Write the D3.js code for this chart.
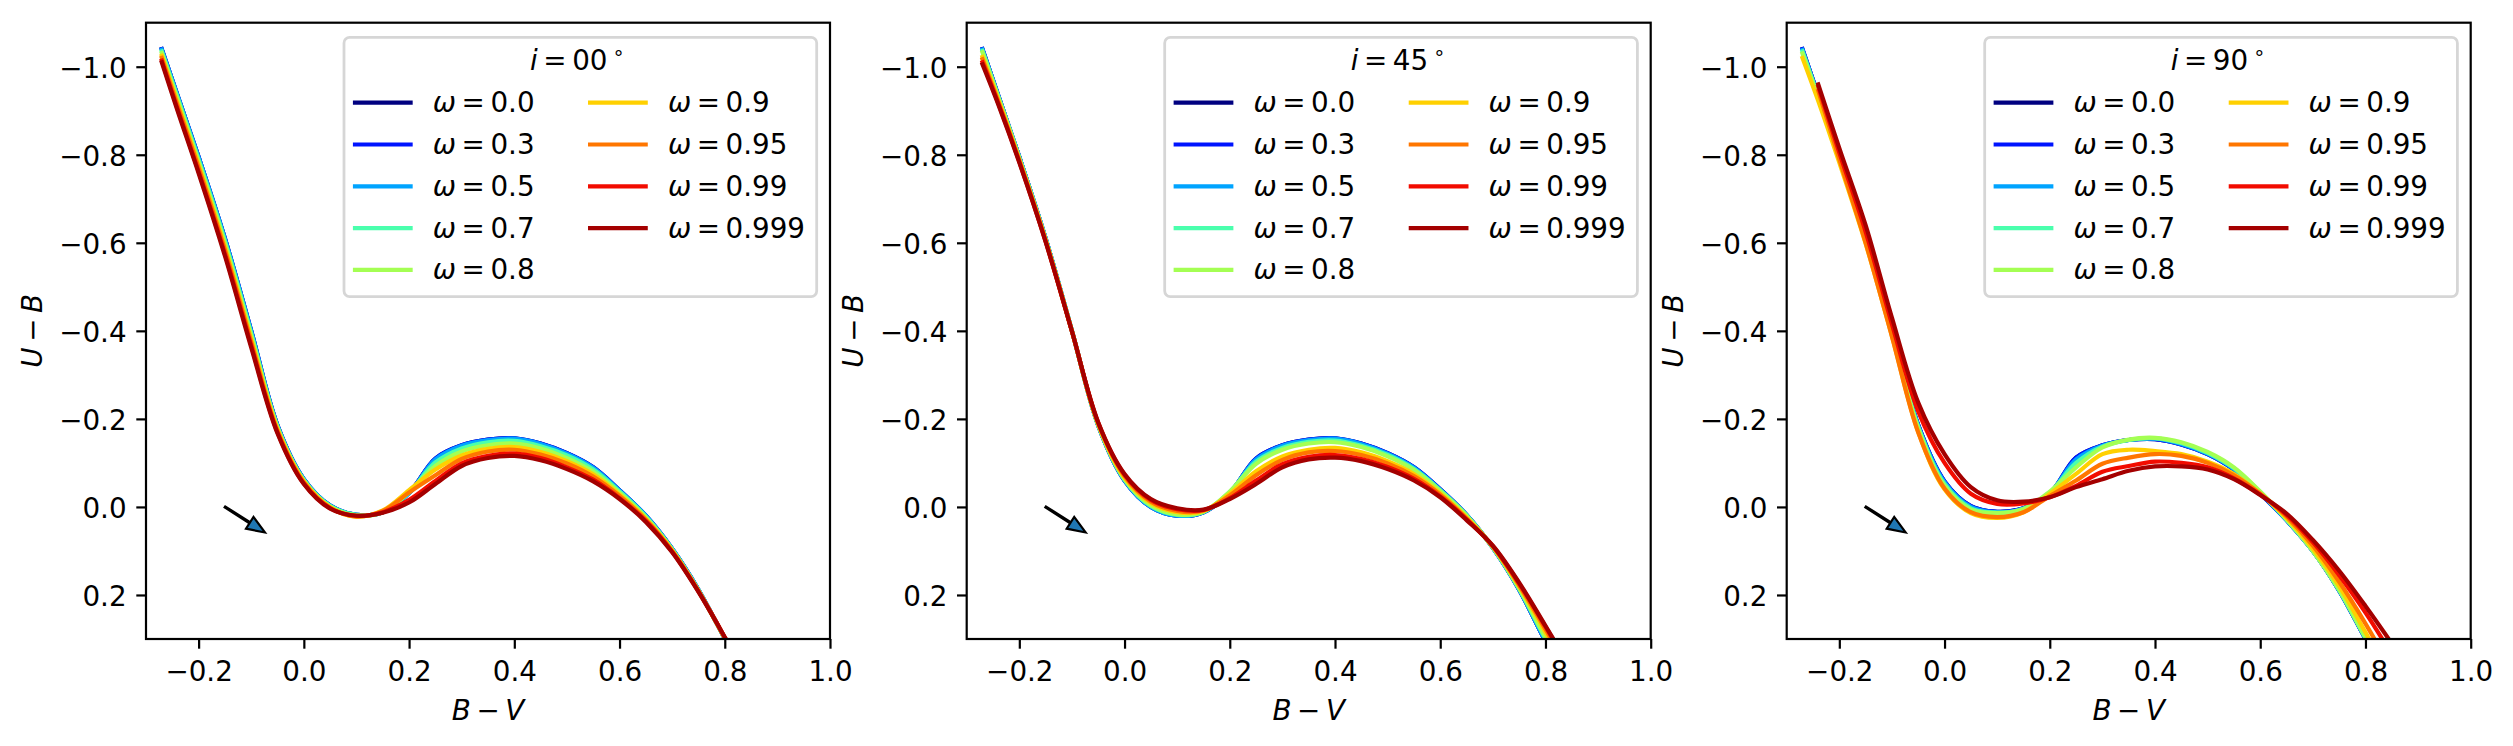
<!DOCTYPE html>
<html>
<head>
<meta charset="utf-8">
<script src="https://cdn.jsdelivr.net/npm/d3@7"></script>
<style>
    body { margin: 0; background: #fff; }
    svg text { font-family: "DejaVu Sans", sans-serif; font-size: 27.78px; fill: #000; }
</style>
</head>
<body>
<div id="chart"></div>
<script>

// shared B-V grid for every curve
var bvGrid = [-0.27, -0.24, -0.2, -0.15, -0.1, -0.05, 0.0, 0.05, 0.1, 0.15, 0.2, 0.25,
    0.3, 0.35, 0.4, 0.45, 0.5, 0.55, 0.6, 0.65, 0.7, 0.75, 0.8, 0.85];

var omegaLabels = ["0.0", "0.3", "0.5", "0.7", "0.8", "0.9", "0.95", "0.99", "0.999"];
var inclLabels = ["00", "45", "90"];

var xTicks = [-0.2, 0.0, 0.2, 0.4, 0.6, 0.8, 1.0];
var yTicks = [-1.0, -0.8, -0.6, -0.4, -0.2, 0.0, 0.2];

// U-B for each omega, i = 00
var ubIncl00 = [
    [-1.040, -0.935, -0.795, -0.610, -0.400, -0.185, -0.063, -0.003, 0.018, 0.012, -0.032, -0.110, -0.140, -0.153, -0.156, -0.144, -0.122, -0.090, -0.038, 0.020, 0.095, 0.188, 0.299, 0.410],
    [-1.040, -0.935, -0.795, -0.610, -0.400, -0.185, -0.063, -0.003, 0.018, 0.012, -0.032, -0.110, -0.140, -0.153, -0.156, -0.144, -0.122, -0.090, -0.038, 0.020, 0.095, 0.188, 0.299, 0.410],
    [-1.039, -0.934, -0.794, -0.609, -0.399, -0.184, -0.063, -0.003, 0.018, 0.012, -0.031, -0.108, -0.139, -0.152, -0.155, -0.143, -0.121, -0.089, -0.037, 0.020, 0.095, 0.188, 0.299, 0.410],
    [-1.035, -0.930, -0.789, -0.604, -0.394, -0.182, -0.061, -0.002, 0.018, 0.012, -0.033, -0.101, -0.133, -0.147, -0.150, -0.138, -0.117, -0.085, -0.035, 0.022, 0.096, 0.189, 0.299, 0.409],
    [-1.031, -0.925, -0.784, -0.598, -0.389, -0.180, -0.060, -0.001, 0.019, 0.012, -0.034, -0.093, -0.126, -0.140, -0.144, -0.133, -0.111, -0.080, -0.032, 0.024, 0.097, 0.190, 0.298, 0.409],
    [-1.025, -0.918, -0.777, -0.590, -0.381, -0.176, -0.058, 0.001, 0.022, 0.008, -0.038, -0.085, -0.117, -0.132, -0.136, -0.125, -0.104, -0.074, -0.028, 0.027, 0.099, 0.191, 0.298, 0.408],
    [-1.020, -0.912, -0.771, -0.584, -0.375, -0.173, -0.056, 0.002, 0.022, 0.009, -0.033, -0.072, -0.109, -0.126, -0.130, -0.119, -0.099, -0.069, -0.025, 0.029, 0.100, 0.191, 0.297, 0.407],
    [-1.014, -0.904, -0.762, -0.575, -0.367, -0.169, -0.053, 0.003, 0.020, 0.012, -0.016, -0.059, -0.099, -0.116, -0.121, -0.111, -0.090, -0.062, -0.020, 0.032, 0.102, 0.192, 0.296, 0.406],
    [-1.010, -0.900, -0.758, -0.570, -0.362, -0.167, -0.052, 0.004, 0.020, 0.013, -0.010, -0.052, -0.093, -0.111, -0.116, -0.106, -0.086, -0.058, -0.018, 0.034, 0.103, 0.193, 0.296, 0.405]
];

// i = 45
var ubIncl45 = [
    [-1.040, -0.935, -0.795, -0.610, -0.400, -0.185, -0.060, 0.000, 0.020, 0.012, -0.032, -0.110, -0.140, -0.153, -0.156, -0.144, -0.122, -0.090, -0.040, 0.018, 0.093, 0.188, 0.305, 0.410],
    [-1.040, -0.935, -0.795, -0.610, -0.400, -0.185, -0.060, 0.000, 0.020, 0.012, -0.032, -0.110, -0.140, -0.153, -0.156, -0.144, -0.122, -0.090, -0.040, 0.018, 0.093, 0.188, 0.305, 0.410],
    [-1.039, -0.934, -0.795, -0.610, -0.400, -0.185, -0.060, 0.000, 0.020, 0.012, -0.032, -0.108, -0.139, -0.152, -0.155, -0.143, -0.121, -0.089, -0.039, 0.018, 0.093, 0.188, 0.304, 0.409],
    [-1.036, -0.932, -0.793, -0.609, -0.400, -0.186, -0.062, -0.002, 0.018, 0.011, -0.034, -0.103, -0.134, -0.148, -0.151, -0.139, -0.118, -0.086, -0.038, 0.019, 0.092, 0.186, 0.300, 0.405],
    [-1.033, -0.931, -0.792, -0.608, -0.400, -0.186, -0.063, -0.004, 0.017, 0.011, -0.035, -0.098, -0.130, -0.144, -0.147, -0.136, -0.115, -0.084, -0.036, 0.020, 0.092, 0.185, 0.296, 0.402],
    [-1.022, -0.925, -0.788, -0.606, -0.399, -0.188, -0.067, -0.009, 0.012, 0.009, -0.030, -0.081, -0.115, -0.130, -0.134, -0.124, -0.104, -0.075, -0.031, 0.024, 0.090, 0.180, 0.285, 0.390],
    [-1.017, -0.921, -0.787, -0.605, -0.399, -0.190, -0.070, -0.012, 0.009, 0.008, -0.026, -0.072, -0.107, -0.124, -0.127, -0.118, -0.099, -0.070, -0.028, 0.026, 0.090, 0.178, 0.278, 0.384],
    [-1.010, -0.917, -0.784, -0.603, -0.399, -0.191, -0.073, -0.016, 0.005, 0.007, -0.020, -0.060, -0.097, -0.114, -0.118, -0.109, -0.091, -0.064, -0.024, 0.028, 0.089, 0.174, 0.272, 0.375],
    [-1.005, -0.914, -0.782, -0.602, -0.399, -0.192, -0.075, -0.018, 0.003, 0.006, -0.018, -0.052, -0.090, -0.108, -0.112, -0.104, -0.086, -0.060, -0.022, 0.030, 0.088, 0.172, 0.270, 0.370]
];

// i = 90
var ubIncl90 = [
    [-1.040, -0.935, -0.795, -0.610, -0.400, -0.186, -0.058, -0.002, 0.011, 0.003, -0.030, -0.112, -0.140, -0.152, -0.154, -0.142, -0.120, -0.085, -0.030, 0.030, 0.100, 0.190, 0.300, 0.410],
    [-1.040, -0.935, -0.795, -0.610, -0.400, -0.186, -0.058, -0.002, 0.011, 0.003, -0.030, -0.112, -0.140, -0.152, -0.154, -0.142, -0.120, -0.085, -0.030, 0.030, 0.100, 0.190, 0.300, 0.410],
    [-1.038, -0.933, -0.794, -0.609, -0.399, -0.184, -0.056, 0.000, 0.012, 0.004, -0.031, -0.108, -0.139, -0.152, -0.155, -0.143, -0.121, -0.086, -0.031, 0.030, 0.100, 0.190, 0.299, 0.409],
    [-1.035, -0.931, -0.792, -0.607, -0.397, -0.182, -0.052, 0.003, 0.013, 0.004, -0.033, -0.100, -0.137, -0.152, -0.156, -0.145, -0.123, -0.088, -0.033, 0.029, 0.100, 0.189, 0.298, 0.407],
    [-1.030, -0.929, -0.790, -0.605, -0.395, -0.178, -0.048, 0.006, 0.014, 0.005, -0.035, -0.090, -0.135, -0.153, -0.157, -0.147, -0.125, -0.090, -0.035, 0.028, 0.100, 0.188, 0.296, 0.405],
    [-1.020, -0.922, -0.782, -0.598, -0.388, -0.170, -0.040, 0.014, 0.025, 0.012, -0.030, -0.075, -0.120, -0.130, -0.127, -0.120, -0.103, -0.075, -0.030, 0.025, 0.095, 0.180, 0.285, 0.390],
    [null, -0.945, -0.790, -0.600, -0.387, -0.169, -0.042, 0.012, 0.023, 0.012, -0.025, -0.060, -0.098, -0.112, -0.120, -0.116, -0.100, -0.072, -0.030, 0.022, 0.088, 0.170, 0.265, 0.370],
    [null, -0.955, -0.805, -0.625, -0.415, -0.217, -0.100, -0.030, -0.007, -0.008, -0.022, -0.048, -0.080, -0.093, -0.103, -0.100, -0.090, -0.065, -0.028, 0.018, 0.080, 0.155, 0.240, 0.335],
    [null, -0.960, -0.815, -0.640, -0.430, -0.237, -0.120, -0.045, -0.015, -0.012, -0.022, -0.045, -0.063, -0.082, -0.092, -0.092, -0.085, -0.063, -0.027, 0.015, 0.075, 0.145, 0.225, 0.310]
];

// reddening arrow (B-V, U-B)
var arrowFrom = [-0.15, 0.0];
var arrowTo = [-0.074, 0.058];

// jet colours, one per omega
var lineColors = ["#000080", "#0014ff", "#00a4ff", "#4affad", "#a4ff53", "#ffd000", "#ff7600", "#f20c00", "#a40000"];


/*
 * ColorPanel - one U-B vs B-V panel
 * @param _svg      -- svg selection to draw into
 * @param _left     -- left edge of the axes box
 * @param _incl     -- inclination label
 * @param _curves   -- U-B arrays, one per omega
 */
ColorPanel = function(_svg, _left, _incl, _curves){
    this.svg = _svg;
    this.left = _left;
    this.incl = _incl;
    this.curves = _curves;

    this.initVis();
}

ColorPanel.prototype.initVis = function() {
    var vis = this;
    vis.top = 22.7;
    vis.width = 684;
    vis.height = 616.3;
    vis.fs = 27.78;

    vis.g = vis.svg.append("g")
        .attr("transform", "translate(" + vis.left + "," + vis.top + ")");

    vis.x = d3.scaleLinear().domain([-0.3, 1.0]).range([0, vis.width]);
    vis.y = d3.scaleLinear().domain([-1.1, 0.3]).range([0, vis.height]);

    vis.clipId = "clip-" + vis.incl;
    vis.g.append("clipPath").attr("id", vis.clipId)
        .append("rect")
        .attr("width", vis.width)
        .attr("height", vis.height);

    vis.updateVis();
}

ColorPanel.prototype.updateVis = function() {
    var vis = this;
    var fmt = d3.format(".1f");

    var line = d3.line()
        .defined(function(d) { return d[1] != null; })
        .x(function(d) { return vis.x(d[0]); })
        .y(function(d) { return vis.y(d[1]); })
        .curve(d3.curveCatmullRom.alpha(0.5));

    var series = vis.curves.map(function(ub, i) {
        return { color: lineColors[i], pts: bvGrid.map(function(bv, j) { return [bv, ub[j]]; }) };
    });

    vis.g.append("g")
        .attr("clip-path", "url(#" + vis.clipId + ")")
        .selectAll(".curve")
        .data(series)
        .enter()
        .append("path")
        .attr("class", "curve")
        .attr("d", function(d) { return line(d.pts); })
        .attr("fill", "none")
        .attr("stroke", function(d) { return d.color; })
        .attr("stroke-width", 4.17)
        .attr("stroke-linejoin", "round")
        .attr("stroke-linecap", "square");

    // arrow, built in pixel space from the two data points
    var p0 = [vis.x(arrowFrom[0]), vis.y(arrowFrom[1])];
    var p1 = [vis.x(arrowTo[0]), vis.y(arrowTo[1])];
    var len = Math.hypot(p1[0] - p0[0], p1[1] - p0[1]);
    var ux = (p1[0] - p0[0]) / len, uy = (p1[1] - p0[1]) / len;
    var nx = -uy, ny = ux;
    var headLen = 18, headW = 7, shaftW = 0.6;
    var bx = p1[0] - ux * headLen, by = p1[1] - uy * headLen;
    var poly = [
        [p0[0] + nx * shaftW, p0[1] + ny * shaftW],
        [bx + nx * shaftW, by + ny * shaftW],
        [bx + nx * headW, by + ny * headW],
        p1,
        [bx - nx * headW, by - ny * headW],
        [bx - nx * shaftW, by - ny * shaftW],
        [p0[0] - nx * shaftW, p0[1] - ny * shaftW]
    ];
    vis.g.append("polygon")
        .attr("points", poly.map(function(p) { return p.join(","); }).join(" "))
        .attr("fill", "#1f77b4")
        .attr("stroke", "#000")
        .attr("stroke-width", 2.2)
        .attr("stroke-linejoin", "miter");

    // axes
    var xAxis = d3.axisBottom(vis.x).tickValues(xTicks).tickFormat(fmt).tickSize(9.7).tickSizeOuter(0);
    var yAxis = d3.axisLeft(vis.y).tickValues(yTicks).tickFormat(fmt).tickSize(9.7).tickSizeOuter(0).tickPadding(9.7);

    var gx = vis.g.append("g")
        .attr("transform", "translate(0," + vis.height + ")")
        .call(xAxis);
    var gy = vis.g.append("g").call(yAxis);

    [gx, gy].forEach(function(a) {
        a.attr("font-size", null).attr("font-family", null);
        a.select(".domain").remove();
        a.selectAll(".tick line").attr("stroke", "#000").attr("stroke-width", 2.2);
        a.selectAll(".tick text").attr("fill", "#000").style("font-size", vis.fs + "px");
    });
    gx.selectAll(".tick text").attr("dy", null).attr("y", 42.3);
    gy.selectAll(".tick text").attr("dy", 11);

    // frame
    vis.g.append("rect")
        .attr("width", vis.width)
        .attr("height", vis.height)
        .attr("fill", "none")
        .attr("stroke", "#000")
        .attr("stroke-width", 2.2);

    // axis labels
    var xl = vis.g.append("text")
        .attr("x", vis.width / 2)
        .attr("y", 697)
        .attr("text-anchor", "middle");
    xl.append("tspan").attr("font-style", "italic").text("B");
    xl.append("tspan").text("\u2009\u2212\u2009");
    xl.append("tspan").attr("font-style", "italic").text("V");

    var yl = vis.g.append("text")
        .attr("transform", "translate(-104," + (vis.height / 2) + ") rotate(-90)")
        .attr("text-anchor", "middle");
    yl.append("tspan").attr("font-style", "italic").text("U");
    yl.append("tspan").text("\u2009\u2212\u2009");
    yl.append("tspan").attr("font-style", "italic").text("B");

    // legend
    var legW = 472.7, legH = 259.4;
    var leg = vis.g.append("g")
        .attr("transform", "translate(" + (vis.width - 13.3 - legW) + ",14.6)");

    leg.append("rect")
        .attr("width", legW)
        .attr("height", legH)
        .attr("rx", 5.6)
        .attr("fill", "#fff")
        .attr("fill-opacity", 0.8)
        .attr("stroke", "#d6d6d6")
        .attr("stroke-width", 2.78);

    var title = leg.append("text")
        .attr("x", legW / 2 - 3)
        .attr("y", 32.7)
        .attr("text-anchor", "middle");
    title.append("tspan").attr("font-style", "italic").text("i");
    title.append("tspan").text("\u2009=\u2009" + vis.incl);
    title.append("tspan")
        .attr("dx", 5)
        .attr("dy", -11)
        .style("font-size", "19.4px")
        .text("\u2218");

    var items = leg.selectAll(".item")
        .data(omegaLabels)
        .enter()
        .append("g")
        .attr("class", "item")
        .attr("transform", function(d, i) {
            var col = i < 5 ? 0 : 1;
            var row = i < 5 ? i : i - 5;
            return "translate(" + (col === 0 ? 11 : 246.1) + "," + (65.4 + row * 41.8) + ")";
        });

    items.append("line")
        .attr("x1", 0)
        .attr("x2", 55.6)
        .attr("stroke", function(d, i) { return lineColors[i]; })
        .attr("stroke-width", 4.17)
        .attr("stroke-linecap", "square");

    var lt = items.append("text")
        .attr("x", 77.8)
        .attr("y", 9.5);
    lt.append("tspan").attr("font-style", "italic").text("\u03c9");
    lt.append("tspan").text(function(d) { return "\u2009=\u2009" + d; });
}


var svg = d3.select("#chart").append("svg")
    .attr("width", 2513)
    .attr("height", 746);

var panels = [];
panels.push(new ColorPanel(svg, 146, inclLabels[0], ubIncl00));
panels.push(new ColorPanel(svg, 966.7, inclLabels[1], ubIncl45));
panels.push(new ColorPanel(svg, 1786.7, inclLabels[2], ubIncl90));

</script>
</body>
</html>
